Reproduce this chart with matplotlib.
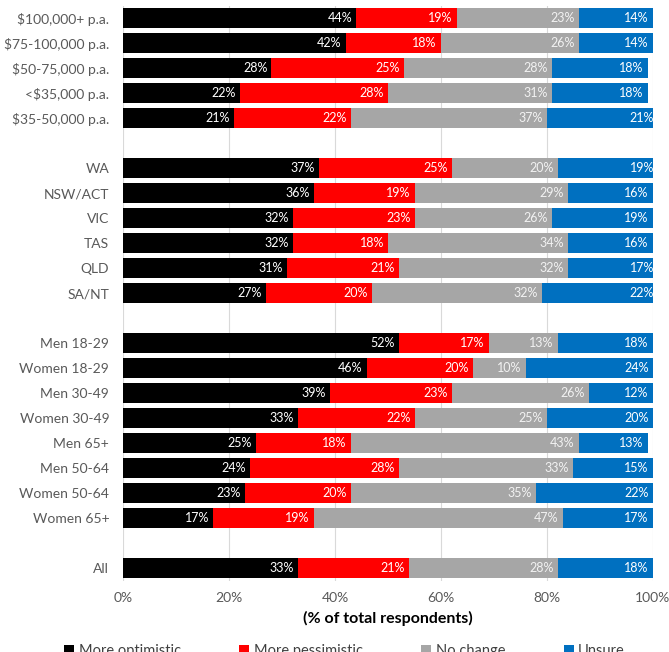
import numpy as np
import matplotlib.pyplot as plt

plt.rcParams['font.family'] = ['Lato', 'DejaVu Sans']

# rows top to bottom; '' marks a blank spacer row between groups
categories = ['$100,000+ p.a.', '$75-100,000 p.a.', '$50-75,000 p.a.', '<$35,000 p.a.', '$35-50,000 p.a.',
              '',
              'WA', 'NSW/ACT', 'VIC', 'TAS', 'QLD', 'SA/NT',
              '',
              'Men 18-29', 'Women 18-29', 'Men 30-49', 'Women 30-49', 'Men 65+', 'Men 50-64',
              'Women 50-64', 'Women 65+',
              '',
              'All']

optimistic = [44, 42, 28, 22, 21, None, 37, 36, 32, 32, 31, 27, None,
              52, 46, 39, 33, 25, 24, 23, 17, None, 33]
pessimistic = [19, 18, 25, 28, 22, None, 25, 19, 23, 18, 21, 20, None,
               17, 20, 23, 22, 18, 28, 20, 19, None, 21]
no_change = [23, 26, 28, 31, 37, None, 20, 29, 26, 34, 32, 32, None,
             13, 10, 26, 25, 43, 33, 35, 47, None, 28]
unsure = [14, 14, 18, 18, 21, None, 19, 16, 19, 16, 17, 22, None,
          18, 24, 12, 20, 13, 15, 22, 17, None, 18]

series = [('More optimistic', optimistic, '#000000', 'white'),
          ('More pessimistic', pessimistic, '#ff0000', 'white'),
          ('No change', no_change, '#a6a6a6', '#f2f2f2'),
          ('Unsure', unsure, '#0070c0', 'white')]

fig = plt.figure(figsize=(6.69, 6.52), dpi=100)
ax = fig.add_axes([0.184, 0.109, 0.792, 0.882])

y = np.arange(len(categories))
left = np.zeros(len(categories))
for name, vals, color, tcolor in series:
    v = np.array([np.nan if x is None else x for x in vals], dtype=float)
    w = np.nan_to_num(v)
    ax.barh(y, w, left=left, height=0.8, color=color, label=name, zorder=2)
    for yi, (l, val) in enumerate(zip(left, v)):
        if np.isnan(val):
            continue
        ax.annotate('%d%%' % val, (l + val, yi), xytext=(-3, 0),
                    textcoords='offset points', ha='right', va='center',
                    color=tcolor, fontsize=9, zorder=3, annotation_clip=False)
    left += w

ax.set_ylim(len(categories) - 0.5, -0.5)
ax.set_xlim(0, 100)
ax.set_yticks(y)
ax.set_yticklabels(categories, fontsize=10, color='#595959')
ax.set_xticks(np.arange(0, 101, 20))
ax.set_xticklabels(['%d%%' % t for t in range(0, 101, 20)], fontsize=10, color='#595959')
ax.tick_params(length=0, pad=8)
ax.tick_params(axis='y', pad=10)
ax.grid(axis='x', color='#d9d9d9', lw=0.8, zorder=0)
for s in ax.spines.values():
    s.set_visible(False)
ax.set_xlabel('(% of total respondents)', fontsize=11.5, fontweight='bold', labelpad=5)

fig.legend(loc='upper center', bbox_to_anchor=(0.515, 0.032), ncol=4, frameon=False,
           fontsize=10.5, handlelength=0.7, handleheight=0.7, handletextpad=0.3,
           columnspacing=4.0, labelcolor='#404040')

fig.savefig('out.png', dpi=100)
